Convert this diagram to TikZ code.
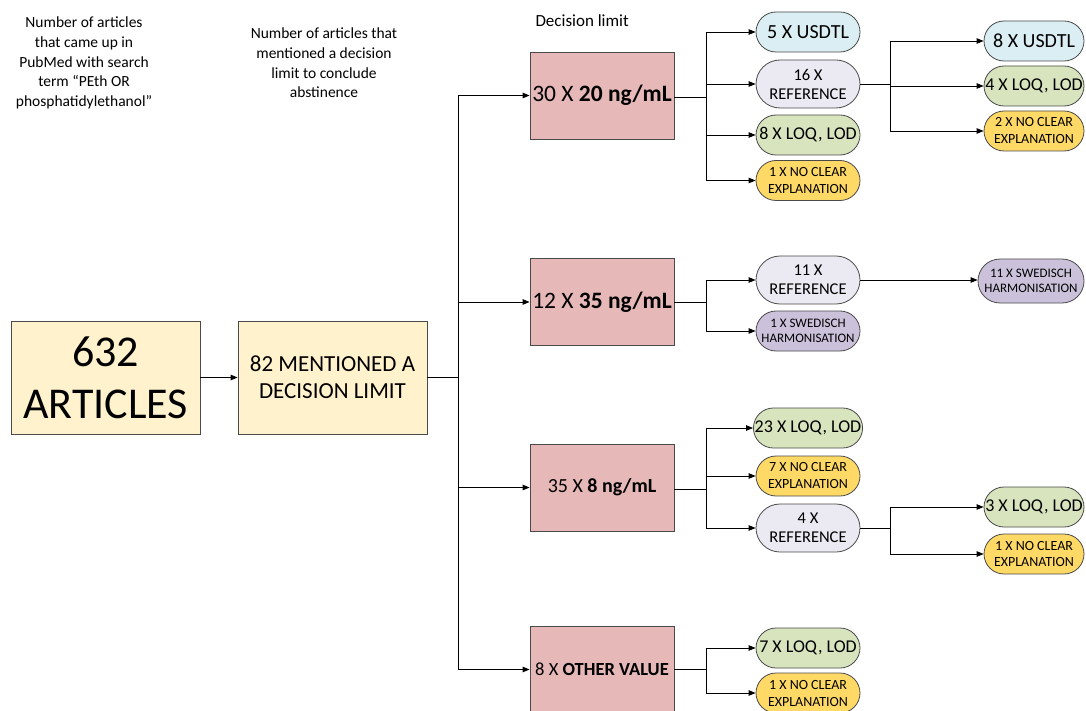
\documentclass[tikz,border=0pt]{standalone}
\usepackage{fontspec}
\setmainfont{Carlito}
\usetikzlibrary{shapes.misc,arrows.meta}
\definecolor{cyel}{HTML}{FFF2CC}
\definecolor{cred}{HTML}{E6B8B7}
\definecolor{cblue}{HTML}{DAEEF3}
\definecolor{cref}{HTML}{EBE9F2}
\definecolor{cgreen}{HTML}{D7E4BD}
\definecolor{cgold}{HTML}{FFD966}
\definecolor{cpurp}{HTML}{CCC1DA}
\definecolor{cborder}{HTML}{4A4A4A}
\tikzset{
  basebox/.style={draw=cborder, line width=0.8pt, align=center, inner sep=0pt},
  ybox/.style={basebox, fill=cyel, minimum width=189pt, minimum height=113pt},
  rbox/.style={basebox, fill=cred, minimum width=144pt, minimum height=87pt},
  pill/.style={rounded rectangle, draw=cborder, line width=0.8pt, align=center, inner sep=0pt, minimum width=104pt, minimum height=40pt},
  pill2/.style={pill, minimum width=100pt},
  refpill/.style={pill, fill=cref, minimum height=48pt, font=\fontsize{16.5}{19}\selectfont},
  usd/.style={fill=cblue, font=\fontsize{20}{22}\selectfont},
  loq/.style={fill=cgreen, font=\fontsize{18}{20}\selectfont},
  ncl/.style={fill=cgold, font=\fontsize{14}{17}\selectfont},
  swe/.style={fill=cpurp, font=\fontsize{13}{15}\selectfont},
  lbl/.style={align=center, font=\fontsize{15.5}{19.6}\selectfont},
  arr/.style={-{Triangle[length=7pt,width=5.5pt]}, line width=0.9pt},
  ln/.style={line width=0.9pt},
}
\begin{document}
\begin{tikzpicture}[x=1pt,y=-1pt]
\useasboundingbox (0,0) rectangle (1086,711);
% labels
\node[lbl] (l1) at (84,63) {Number of articles\\that came up in\\PubMed with search\\term “PEth OR\\phosphatidylethanol”};
\node[lbl] (l2) at (324,63) {Number of articles that\\mentioned a decision\\limit to conclude\\abstinence};
\node[lbl, anchor=west, font=\fontsize{17}{20}\selectfont] (l3) at (532,21) {Decision limit};
% main boxes
\node[ybox, font=\fontsize{44}{52}\selectfont] (a) at (105.5,377.5) {632\\ARTICLES};
\node[ybox, font=\fontsize{23}{27}\selectfont] (b) at (332.5,377.5) {82 MENTIONED A\\DECISION LIMIT};
\node[rbox, font=\fontsize{23.5}{26}\selectfont] (r1) at (602,95.5) {30 X \textbf{20 ng/mL}};
\node[rbox, font=\fontsize{23.5}{26}\selectfont] (r2) at (602,302) {12 X \textbf{35 ng/mL}};
\node[rbox, font=\fontsize{20}{24}\selectfont] (r3) at (602,487.5) {35 X \textbf{8 ng/mL}};
\node[rbox, font=\fontsize{18.5}{22}\selectfont] (r4) at (602,669.5) {8 X \textbf{OTHER VALUE}};
% pills group 1
\node[pill, usd] (p11) at (808,32) {5 X USDTL};
\node[refpill] (p12) at (808,84) {16 X\\REFERENCE};
\node[pill, loq] (p13) at (808,135) {8 X LOQ, LOD};
\node[pill, ncl] (p14) at (808,180.5) {1 X NO CLEAR\\EXPLANATION};
\node[pill2, usd] (q11) at (1034,41) {8 X USDTL};
\node[pill2, loq] (q12) at (1034,86) {4 X LOQ, LOD};
\node[pill2, ncl] (q13) at (1034,131) {2 X NO CLEAR\\EXPLANATION};
% group 2
\node[refpill] (p21) at (808,280) {11 X\\REFERENCE};
\node[pill, swe] (p22) at (808,331) {1 X SWEDISCH\\HARMONISATION};
\node[pill, swe, minimum width=106pt, minimum height=44pt] (q21) at (1031,281) {11 X SWEDISCH\\HARMONISATION};
% group 3
\node[pill, loq] (p31) at (808,428) {23 X LOQ, LOD};
\node[pill, ncl] (p32) at (808,476) {7 X NO CLEAR\\EXPLANATION};
\node[refpill] (p33) at (808,528) {4 X\\REFERENCE};
\node[pill2, loq] (q31) at (1034,507) {3 X LOQ, LOD};
\node[pill2, ncl] (q32) at (1034,554) {1 X NO CLEAR\\EXPLANATION};
% group 4
\node[pill, loq] (p41) at (808,648) {7 X LOQ, LOD};
\node[pill, ncl] (p42) at (808,693) {1 X NO CLEAR\\EXPLANATION};
% junctions
\coordinate (j0) at (458,377.5);
\coordinate (j1) at (706,97);
\coordinate (j2) at (706,302);
\coordinate (j3) at (706,489);
\coordinate (j4) at (706,669);
\coordinate (k1) at (890,84.5);
\coordinate (k3) at (890,528.5);
% connectors
\draw[arr] (a) -- (b);
\draw[ln] (b) -- (j0);
\draw[arr] (j0) |- (r1.west);
\draw[arr] (j0) |- (r2.west);
\draw[arr] (j0) |- (r3.west);
\draw[arr] (j0) |- (r4.west);
\draw[ln] (r1.east |- j1) -- (j1);
\foreach \p in {p11,p12,p13,p14} \draw[arr] (j1) |- (\p.west);
\draw[ln] (p12.east |- k1) -- (k1);
\foreach \p in {q11,q12,q13} \draw[arr] (k1) |- (\p.west);
\draw[ln] (r2) -- (j2);
\foreach \p in {p21,p22} \draw[arr] (j2) |- (\p.west);
\draw[arr] (p21.east) -- (q21.west |- p21.east);
\draw[ln] (r3.east |- j3) -- (j3);
\foreach \p in {p31,p32,p33} \draw[arr] (j3) |- (\p.west);
\draw[ln] (p33.east |- k3) -- (k3);
\foreach \p in {q31,q32} \draw[arr] (k3) |- (\p.west);
\draw[ln] (r4.east |- j4) -- (j4);
\foreach \p in {p41,p42} \draw[arr] (j4) |- (\p.west);
\end{tikzpicture}
\end{document}
